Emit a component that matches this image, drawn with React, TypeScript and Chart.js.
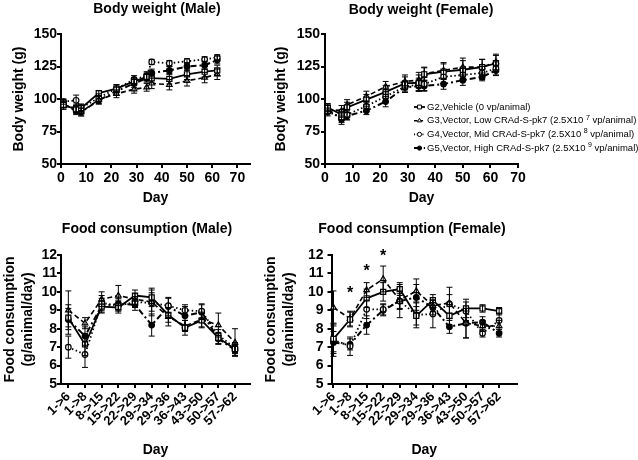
import React, { useEffect, useRef } from 'react';
import { Chart, registerables } from 'chart.js';
Chart.register(...registerables);

const FONT = "'Liberation Sans', Arial, Helvetica, sans-serif";

// ---------------- data ----------------
const bwDays = [1, 6, 8, 15, 22, 29, 34, 36, 43, 50, 57, 62];
const bwXTicks = [0, 10, 20, 30, 40, 50, 60, 70];
const bwYTicks = [50, 75, 100, 125, 150];

const bwMaleG2 = [95.5, 92, 93, 104.5, 108, 113.5, 117, 116, 115.5, 119, 121, 122];
const bwMaleG3 = [95, 93, 90, 99.5, 104, 107.5, 109, 112, 111, 114, 116.5, 119];
const bwMaleG4 = [98, 99, 93, 101, 108, 115, 118, 128.5, 127.5, 129, 130.5, 132];
const bwMaleG5 = [96, 91, 90, 99, 106, 112, 116, 120, 122, 125, 126, 130];
const bwMaleErrG2 = [2, 3, 3, 2, 3, 3, 3, 3, 4, 4, 4, 4];
const bwMaleErrG3 = [3, 3, 3, 3, 3, 3, 3, 4, 4, 4, 4, 4];
const bwMaleErrG4 = [2, 4, 3, 3, 3, 3, 3, 2, 2, 2, 2, 2];
const bwMaleErrG5 = [3, 3, 3, 3, 3, 3, 3, 3, 3, 3, 3, 3];

const bwFemaleG2 = [93.5, 88, 93.5, 99.5, 105.5, 112, 112.5, 119, 121, 122.5, 124.5, 127.5];
const bwFemaleG3 = [92, 91, 95.5, 102, 109.5, 113.5, 114.5, 119.5, 122, 124.5, 124.5, 128.5];
const bwFemaleG4 = [90, 86, 88, 94.5, 102, 109.5, 111, 111.5, 117, 118.5, 120, 123.5];
const bwFemaleG5 = [92, 84.5, 87, 91, 98, 109, 110, 110, 111.5, 114.5, 117, 122];
const bwFemaleErrG2 = [3, 4, 4, 4, 5, 5, 6, 5, 6, 7, 6, 6];
const bwFemaleErrG3 = [3, 4, 4, 4, 4, 5, 6, 5, 6, 7, 6, 6];
const bwFemaleErrG4 = [3, 4, 4, 4, 4, 4, 5, 5, 5, 5, 5, 5];
const bwFemaleErrG5 = [3, 4, 3, 3, 4, 4, 4, 4, 4, 4, 3, 4];

const foodLabels = ['1->6', '1->8', '8->15', '15->22', '22->29', '29->34', '29->36', '36->43', '43->50', '50->57', '57->62'];
const foodYTicks = [5, 6, 7, 8, 9, 10, 11, 12];

const foodMaleG2 = [8.6, 7.15, 9.2, 9.15, 9.8, 9.7, 8.75, 8.05, 8.45, 7.5, 6.9];
const foodMaleG3 = [9.0, 8.3, 9.6, 9.8, 9.6, 9.45, 8.65, 8.15, 8.5, 8.2, 7.25];
const foodMaleG4 = [7.0, 6.6, 9.4, 9.25, 9.45, 9.4, 9.25, 9.0, 8.95, 7.65, 6.95];
const foodMaleG5 = [8.5, 7.6, 9.25, 9.35, 9.3, 8.2, 9.2, 8.7, 8.9, 7.45, 6.85];
const foodMaleErrG2 = [0.5, 0.6, 0.3, 0.3, 0.3, 0.5, 0.4, 0.4, 0.4, 0.3, 0.2];
const foodMaleErrG3 = [1.05, 0.3, 0.4, 0.55, 0.3, 0.5, 0.5, 0.3, 0.4, 0.65, 0.75];
const foodMaleErrG4 = [0.6, 0.7, 0.4, 0.3, 0.3, 0.7, 0.4, 0.3, 0.4, 0.3, 0.3];
const foodMaleErrG5 = [0.8, 0.5, 0.4, 0.3, 0.3, 0.6, 0.5, 0.5, 0.4, 0.3, 0.3];

const foodFemaleG2 = [7.45, 8.5, 9.65, 10.0, 10.15, 8.7, 9.55, 8.7, 9.1, 9.1, 8.95];
const foodFemaleG3 = [9.15, 8.55, 10.1, 10.7, 9.55, 10.05, 9.25, 9.4, 8.3, 8.15, 8.15];
const foodFemaleG4 = [7.4, 7.05, 9.05, 9.05, 9.5, 8.75, 8.8, 9.35, 8.95, 7.75, 8.45];
const foodFemaleG5 = [7.25, 7.15, 8.2, 9.0, 9.5, 9.7, 9.15, 8.1, 8.3, 8.35, 7.75];
const foodFemaleErrG2 = [0.7, 0.4, 0.5, 0.5, 0.35, 0.5, 0.3, 0.5, 0.5, 0.2, 0.2];
const foodFemaleErrG3 = [0.9, 0.4, 0.4, 0.7, 0.5, 0.65, 0.3, 0.85, 0.8, 0.3, 0.3];
const foodFemaleErrG4 = [0.9, 0.5, 0.5, 0.3, 0.9, 0.7, 0.75, 0.5, 0.5, 0.2, 0.4];
const foodFemaleErrG5 = [0.6, 0.3, 0.5, 0.3, 0.4, 0.7, 0.4, 0.35, 0.8, 0.3, 0.2];

const starIndex = [1, 2, 3];
const starValue = [10.05, 11.25, 12.1];

const legendMain = [
  'G2,Vehicle (0 vp/animal)',
  'G3,Vector, Low CRAd-S-pk7 (2.5X10 ',
  'G4,Vector, Mid CRAd-S-pk7 (2.5X10 ',
  'G5,Vector, High CRAd-S-pk7 (2.5X10 ',
];
const legendSup = ['', '7', '8', '9'];
const legendTail = ['', ' vp/animal)', ' vp/animal)', ' vp/animal)'];

// ---------------- styles ----------------
const STYLES = [
  { dash: [], width: 1.8, point: 'rect', radius: 3.6, fill: '#fff' },
  { dash: [5, 3], width: 1.6, point: 'triangle', radius: 3.2, fill: '#fff' },
  { dash: [1.5, 2.5], width: 1.8, point: 'circle', radius: 2.8, fill: '#fff' },
  { dash: [6, 3, 2, 3], width: 2, point: 'circle', radius: 2.8, fill: '#000' },
];

function drawMarker(ctx: CanvasRenderingContext2D, st: any, x: number, y: number, scale: number) {
  ctx.beginPath();
  const r = st.radius * scale;
  if (st.point === 'rect') {
    const s = r * 0.72;
    ctx.rect(x - s, y - s, 2 * s, 2 * s);
  } else if (st.point === 'triangle') {
    ctx.moveTo(x, y - r);
    ctx.lineTo(x + r * 0.87, y + r * 0.5);
    ctx.lineTo(x - r * 0.87, y + r * 0.5);
    ctx.closePath();
  } else {
    ctx.arc(x, y, r, 0, Math.PI * 2);
  }
  ctx.fillStyle = st.fill;
  ctx.fill();
  ctx.lineWidth = 1;
  ctx.strokeStyle = '#000';
  ctx.stroke();
}

// ---------------- plugins ----------------
const errorBarPlugin = {
  id: 'errorBars',
  afterDatasetsDraw(chart: any) {
    const ctx = chart.ctx;
    const ys = chart.scales.y;
    chart.data.datasets.forEach((ds: any, i: number) => {
      if (!ds.errors) return;
      const meta = chart.getDatasetMeta(i);
      ctx.save();
      ctx.strokeStyle = '#000';
      ctx.lineWidth = 1;
      ctx.setLineDash([]);
      meta.data.forEach((pt: any, j: number) => {
        const v = ds.data[j].y;
        const e = ds.errors[j];
        const t = ys.getPixelForValue(v + e);
        const b = ys.getPixelForValue(v - e);
        ctx.beginPath();
        ctx.moveTo(pt.x, t);
        ctx.lineTo(pt.x, b);
        ctx.moveTo(pt.x - 3, t);
        ctx.lineTo(pt.x + 3, t);
        ctx.moveTo(pt.x - 3, b);
        ctx.lineTo(pt.x + 3, b);
        ctx.stroke();
      });
      ctx.restore();
    });
  },
};

const panelTitlePlugin = {
  id: 'panelTitle',
  afterDraw(chart: any, _a: any, o: any) {
    if (!o || !o.text) return;
    const ctx = chart.ctx;
    ctx.save();
    ctx.font = `bold 14px ${FONT}`;
    ctx.fillStyle = '#000';
    ctx.textAlign = 'center';
    ctx.textBaseline = 'middle';
    ctx.fillText(o.text, o.x, o.y);
    ctx.restore();
  },
};

const starPlugin = {
  id: 'stars',
  afterDraw(chart: any, _a: any, o: any) {
    if (!o || !o.show) return;
    const ctx = chart.ctx;
    ctx.save();
    ctx.font = `bold 16px ${FONT}`;
    ctx.fillStyle = '#000';
    ctx.textAlign = 'center';
    ctx.textBaseline = 'middle';
    starIndex.forEach((ix, k) => {
      const x = chart.scales.x.getPixelForValue(ix);
      const y = chart.scales.y.getPixelForValue(starValue[k]);
      ctx.fillText('*', x, y + 3);
    });
    ctx.restore();
  },
};

const legendPlugin = {
  id: 'bwLegend',
  afterDraw(chart: any, _a: any, o: any) {
    if (!o || !o.show) return;
    const ctx = chart.ctx;
    legendMain.forEach((txt, i) => {
      const y = o.y0 + i * o.dy;
      const st = STYLES[i];
      ctx.save();
      ctx.strokeStyle = '#000';
      ctx.lineWidth = st.width;
      ctx.setLineDash(st.dash.map((d: number) => d * 0.7));
      ctx.beginPath();
      ctx.moveTo(o.x0, y);
      ctx.lineTo(o.x1, y);
      ctx.stroke();
      ctx.setLineDash([]);
      drawMarker(ctx, st, (o.x0 + o.x1) / 2, y, 0.75);
      ctx.font = `9.5px ${FONT}`;
      ctx.fillStyle = '#000';
      ctx.textBaseline = 'middle';
      ctx.textAlign = 'left';
      let x = o.tx;
      ctx.fillText(txt, x, y);
      x += ctx.measureText(txt).width;
      if (legendSup[i]) {
        ctx.font = `7px ${FONT}`;
        ctx.fillText(legendSup[i], x, y - 3);
        x += ctx.measureText(legendSup[i]).width;
        ctx.font = `9.5px ${FONT}`;
        ctx.fillText(legendTail[i], x, y);
      }
      ctx.restore();
    });
  },
};

// ---------------- config ----------------
function buildConfig(p: any) {
  const datasets = p.series.map((vals: number[], i: number) => {
    const st = STYLES[i];
    return {
      data: p.xs.map((x: number, j: number) => ({ x, y: vals[j] })),
      errors: p.errors[i],
      borderColor: '#000',
      borderWidth: st.width,
      borderDash: st.dash,
      backgroundColor: st.fill,
      pointStyle: st.point,
      pointRadius: st.radius,
      pointBorderWidth: 1.2,
      pointBorderColor: '#000',
      pointBackgroundColor: st.fill,
      tension: 0,
      fill: false,
      clip: false,
    };
  });
  const axisGrid = { display: true, drawOnChartArea: false, drawTicks: true, tickLength: 4, color: '#000', lineWidth: 2 };
  return {
    type: 'line',
    data: { datasets },
    options: {
      responsive: false,
      animation: false,
      events: [],
      layout: { padding: p.pad },
      plugins: {
        legend: { display: false },
        tooltip: { enabled: false },
        title: { display: false },
        panelTitle: p.title,
        stars: { show: !!p.stars },
        bwLegend: p.legend || { show: false },
      },
      scales: {
        x: {
          type: 'linear',
          min: p.xMin,
          max: p.xMax,
          afterBuildTicks: (s: any) => {
            s.ticks = p.xTicks.map((v: number) => ({ value: v }));
          },
          afterFit: (s: any) => {
            s.height = p.xHeight;
          },
          ticks: {
            autoSkip: false,
            color: '#000',
            padding: p.xTickPad,
            maxRotation: p.rotate,
            minRotation: p.rotate,
            font: { family: FONT, size: p.xTickSize, weight: 'bold' },
            callback: p.xCallback,
          },
          grid: axisGrid,
          border: { display: true, color: '#000', width: 2 },
          title: {
            display: true,
            text: 'Day',
            color: '#000',
            font: { family: FONT, size: 14, weight: 'bold', lineHeight: 1.2 },
            padding: { top: 0, bottom: p.xTitlePad },
          },
        },
        y: {
          type: 'linear',
          min: p.yMin,
          max: p.yMax,
          afterBuildTicks: (s: any) => {
            s.ticks = p.yTicks.map((v: number) => ({ value: v }));
          },
          afterFit: (s: any) => {
            s.width = p.yWidth;
          },
          ticks: {
            autoSkip: false,
            color: '#000',
            padding: p.yTickPad,
            font: { family: FONT, size: 14, weight: 'bold' },
          },
          grid: axisGrid,
          border: { display: true, color: '#000', width: 2 },
          title: {
            display: true,
            text: p.yTitle,
            color: '#000',
            font: { family: FONT, size: 14, weight: 'bold', lineHeight: 1.3 },
            padding: { top: p.yTitlePad, bottom: 0 },
          },
        },
      },
    },
    plugins: [errorBarPlugin, panelTitlePlugin, starPlugin, legendPlugin],
  };
}

const foodIdx = foodLabels.map((_, i) => i);
const foodCb = (v: number) => foodLabels[v] ?? '';
const bwCb = (v: number) => String(v);

const panels = [
  {
    left: 0, top: 0, width: 260, height: 215,
    cfg: {
      xs: bwDays,
      series: [bwMaleG2, bwMaleG3, bwMaleG4, bwMaleG5],
      errors: [bwMaleErrG2, bwMaleErrG3, bwMaleErrG4, bwMaleErrG5],
      xMin: 0, xMax: 75, xTicks: bwXTicks, xCallback: bwCb, rotate: 0, xTickSize: 14, xTickPad: 2,
      yMin: 50, yMax: 150, yTicks: bwYTicks, yTitle: 'Body weight (g)',
      pad: { left: 0, top: 34, right: 10, bottom: 0 },
      yWidth: 61, xHeight: 51, yTitlePad: 9.6, xTitlePad: 8.6, yTickPad: 0,
      title: { text: 'Body weight (Male)', x: 157, y: 9 },
    },
  },
  {
    left: 260, top: 0, width: 378, height: 215,
    cfg: {
      xs: bwDays,
      series: [bwFemaleG2, bwFemaleG3, bwFemaleG4, bwFemaleG5],
      errors: [bwFemaleErrG2, bwFemaleErrG3, bwFemaleErrG4, bwFemaleErrG5],
      xMin: 0, xMax: 70, xTicks: bwXTicks, xCallback: bwCb, rotate: 0, xTickSize: 14, xTickPad: 2,
      yMin: 50, yMax: 150, yTicks: bwYTicks, yTitle: 'Body weight (g)',
      pad: { left: 0, top: 34, right: 120, bottom: 0 },
      yWidth: 65, xHeight: 51, yTitlePad: 11.6, xTitlePad: 8.6, yTickPad: 1,
      title: { text: 'Body weight (Female)', x: 161, y: 10 },
      legend: { show: true, x0: 154, x1: 165, tx: 167, y0: 107, dy: 13.7 },
    },
  },
  {
    left: 0, top: 215, width: 260, height: 245,
    cfg: {
      xs: foodIdx,
      series: [foodMaleG2, foodMaleG3, foodMaleG4, foodMaleG5],
      errors: [foodMaleErrG2, foodMaleErrG3, foodMaleErrG4, foodMaleErrG5],
      xMin: -0.44, xMax: 10.9, xTicks: foodIdx, xCallback: foodCb, rotate: 45, xTickSize: 13, xTickPad: 1,
      yMin: 5, yMax: 12, yTicks: foodYTicks, yTitle: ['Food consumption', '(g/animal/day)'],
      pad: { left: 0, top: 40, right: 10, bottom: 0 },
      yWidth: 61, xHeight: 76, yTitlePad: 0.9, xTitlePad: 1.6, yTickPad: 0,
      title: { text: 'Food consumption (Male)', x: 147, y: 14 },
    },
  },
  {
    left: 260, top: 215, width: 378, height: 245,
    cfg: {
      xs: foodIdx,
      series: [foodFemaleG2, foodFemaleG3, foodFemaleG4, foodFemaleG5],
      errors: [foodFemaleErrG2, foodFemaleErrG3, foodFemaleErrG4, foodFemaleErrG5],
      xMin: -0.12, xMax: 11.08, xTicks: foodIdx, xCallback: foodCb, rotate: 45, xTickSize: 13, xTickPad: 1,
      yMin: 5, yMax: 12, yTicks: foodYTicks, yTitle: ['Food consumption', '(g/animal/day)'],
      pad: { left: 0, top: 40, right: 121, bottom: 0 },
      yWidth: 71.5, xHeight: 76, yTitlePad: 1.9, xTitlePad: 1.6, yTickPad: 4,
      title: { text: 'Food consumption (Female)', x: 152, y: 14 },
      stars: true,
    },
  },
];

function Panel({ left, top, width, height, cfg }: any) {
  const ref = useRef<HTMLCanvasElement | null>(null);
  useEffect(() => {
    if (!ref.current) return;
    const chart = new Chart(ref.current, buildConfig(cfg) as any);
    return () => chart.destroy();
  }, []);
  return (
    <canvas
      ref={ref}
      width={width}
      height={height}
      style={{ position: 'absolute', left, top, width, height }}
    />
  );
}

export default function App() {
  return (
    <div style={{ position: 'absolute', left: 0, top: 0, width: 638, height: 460, background: '#fff', overflow: 'hidden' }}>
      {panels.map((p, i) => (
        <Panel key={i} {...p} />
      ))}
    </div>
  );
}
